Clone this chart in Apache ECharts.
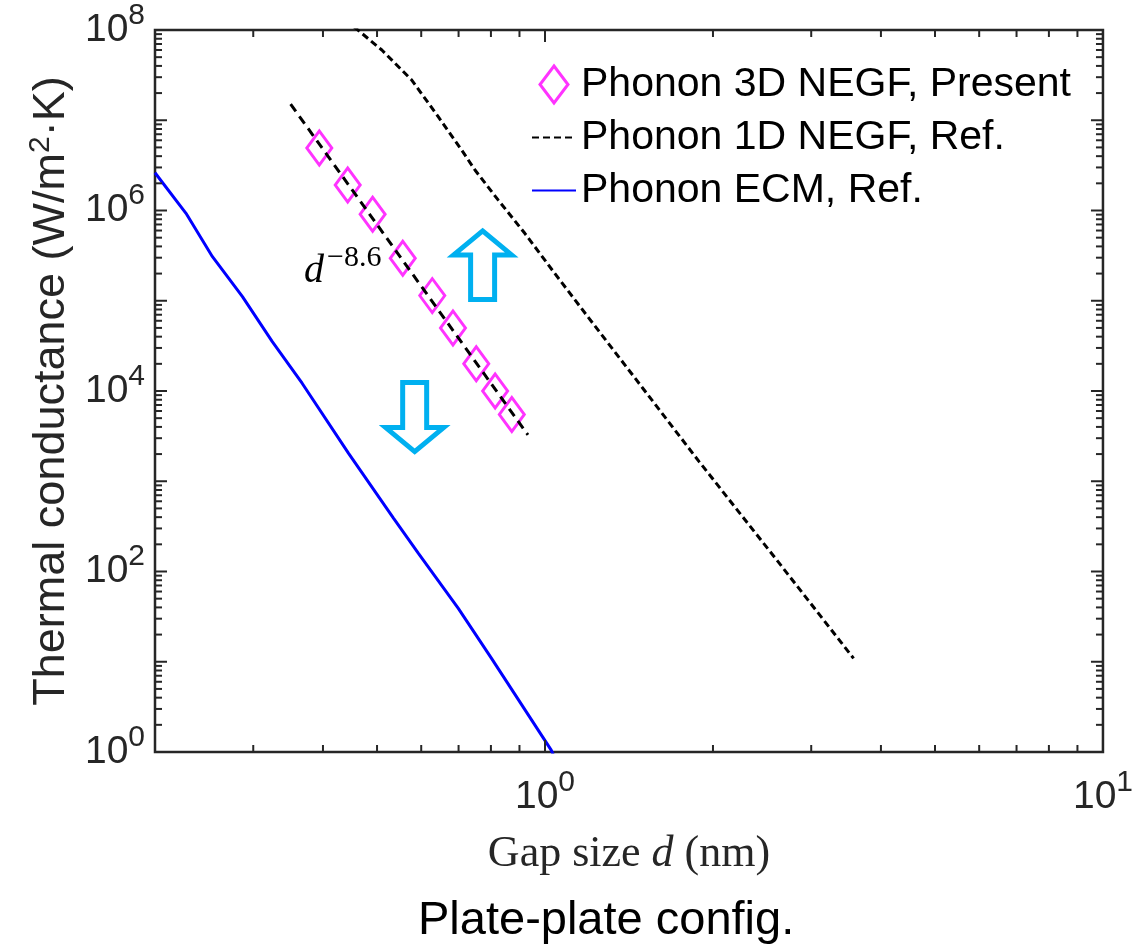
<!DOCTYPE html>
<html>
<head>
<meta charset="utf-8">
<script src="https://cdn.jsdelivr.net/npm/echarts/dist/echarts.min.js"></script>
<style>
html,body{margin:0;padding:0;background:#fff;}
#chart{width:1136px;height:948px;}
</style>
</head>
<body>
<div id="chart"></div>
<script>
// ---------- data ----------
const presentName = 'Phonon 3D NEGF, Present';
const negf1dName = 'Phonon 1D NEGF, Ref.';
const ecmName = 'Phonon ECM, Ref.';

const presentD = [0.394, 0.443, 0.491, 0.556, 0.628, 0.684, 0.753, 0.814, 0.872];
const presentG = [4.93e6, 1.92e6, 9.1e5, 2.95e5, 1.14e5, 5.0e4, 2.0e4, 1.0e4, 5.5e3];

const fitD = [0.350, 0.932];
const fitG = [1.51e7, 3.26e3];

const negf1dD = [0.455, 0.510, 0.577, 0.644, 0.709, 0.749, 0.824, 0.920, 1.041, 1.193, 1.496, 1.889, 2.61, 3.573];
const negf1dG = [1.08e8, 6.0e7, 2.79e7, 1.09e7, 4.68e6, 2.81e6, 1.31e6, 5.59e5, 2.01e5, 6.66e4, 1.08e4, 1.65e3, 131, 10.9];

const ecmD = [0.2, 0.2273, 0.2535, 0.2869, 0.3245, 0.367, 0.4446, 0.5354, 0.5931, 0.6992, 0.8019, 1.026, 1.035];
const ecmG = [2.62e6, 9.31e5, 3.08e5, 1.11e5, 3.52e4, 1.22e4, 2.04e3, 388, 159, 39.1, 10.9, 1.05, 0.93];

// annotation anchors (data space)
const arrowD = [0.773, 0.584];
const arrowTipG = [6.5e5, 1.95e3];
const arrowTailG = [9.7e4, 1.32e4];
const exponentLabelD = [0.370];
const exponentLabelG = [1.57e5];

// axis ticks
const xMajorTicks = [1, 10];
const xMinorTicks = [0.3, 0.4, 0.5, 0.6, 0.7, 0.8, 0.9, 2, 3, 4, 5, 6, 7, 8, 9];
const yMajorTicks = [1, 1e1, 1e2, 1e3, 1e4, 1e5, 1e6, 1e7, 1e8];
const yMinorMantissas = [2, 3, 4, 5, 6, 7, 8, 9];

// ---------- build ----------
const zip = (a, b) => a.map((v, i) => [v, b[i]]);
const X_MIN = 0.2, X_MAX = 10, Y_MIN = 1, Y_MAX = 1e8;

const yMinorTicks = [];
yMajorTicks.slice(0, -1).forEach(dec => yMinorMantissas.forEach(m => yMinorTicks.push(m * dec)));

const tickData = [];
xMinorTicks.forEach(v => tickData.push([v, Y_MIN, 0, 0]));
xMajorTicks.forEach(v => tickData.push([v, Y_MIN, 0, 1]));
yMinorTicks.forEach(v => tickData.push([X_MIN, v, 1, 0]));
yMajorTicks.forEach(v => tickData.push([X_MIN, v, 1, 1]));

const AX = '#262626';
const SANS = '"Liberation Sans", Arial, sans-serif';
const SERIF = '"Liberation Serif", "Times New Roman", serif';

const powLabel = (onlyEven) => (v) => {
  const e = Math.log10(v);
  const r = Math.round(e);
  if (Math.abs(e - r) > 1e-6) return '';
  if (onlyEven && r % 2 !== 0) return '';
  return '{b|10}{s|' + r + '}';
};
const tickRich = {
  b: {fontSize: 39, lineHeight: 39, fontFamily: SANS, color: AX, verticalAlign: 'bottom'},
  s: {fontSize: 30, lineHeight: 30, fontFamily: SANS, color: AX, verticalAlign: 'bottom', padding: [0, 0, 19, 0]}
};
const hiddenSymbol = {color: 'rgba(0,0,0,0)', borderColor: 'rgba(0,0,0,0)', borderWidth: 0};

const chart = echarts.init(document.getElementById('chart'), null, {renderer: 'canvas'});

const option = {
  backgroundColor: '#ffffff',
  animation: false,
  title: {
    text: 'Plate-plate config.',
    left: 418, top: 898,
    padding: 0,
    textStyle: {fontSize: 47, fontWeight: 'normal', fontFamily: SANS, color: '#000'}
  },
  grid: {
    left: 155, right: 28, top: 30, bottom: 196,
    show: true, borderColor: AX, borderWidth: 2.5, backgroundColor: 'transparent'
  },
  legend: {
    orient: 'vertical',
    left: 531, top: 64,
    itemWidth: 44, itemHeight: 37, itemGap: 12,
    selectedMode: false,
    padding: 0,
    textStyle: {fontSize: 41, fontFamily: SANS, color: '#000'},
    data: [
      {name: presentName, icon: 'path://M14 0L28 18.5L14 37L0 18.5Z',
       itemStyle: {color: 'rgba(255,255,255,0)', borderColor: '#FF00FF', borderWidth: 3}},
      {name: negf1dName, itemStyle: hiddenSymbol},
      {name: ecmName, itemStyle: hiddenSymbol}
    ]
  },
  xAxis: {
    type: 'log', logBase: 10, min: X_MIN, max: X_MAX,
    axisLine: {show: false}, axisTick: {show: false}, splitLine: {show: false},
    axisLabel: {margin: 26, formatter: powLabel(false), rich: tickRich},
    name: '{r|Gap size }{i|d}{r| (nm)}',
    nameLocation: 'middle', nameGap: 80,
    nameTextStyle: {
      rich: {
        r: {fontSize: 44, lineHeight: 44, fontFamily: SERIF, color: AX},
        i: {fontSize: 44, lineHeight: 44, fontFamily: SERIF, fontStyle: 'italic', color: AX}
      }
    }
  },
  yAxis: {
    type: 'log', logBase: 10, min: Y_MIN, max: Y_MAX, interval: 1,
    axisLine: {show: false}, axisTick: {show: false}, splitLine: {show: false},
    axisLabel: {margin: 10, formatter: powLabel(true), rich: tickRich},
    name: '{a|Thermal conductance (W/m}{s|2}{a|·K)}',
    nameLocation: 'middle', nameGap: 80,
    nameTextStyle: {
      rich: {
        a: {fontSize: 45, lineHeight: 48, fontFamily: SANS, color: AX, verticalAlign: 'bottom'},
        s: {fontSize: 30, lineHeight: 30, fontFamily: SANS, color: AX, verticalAlign: 'bottom', padding: [0, 0, 18, 0]}
      }
    }
  },
  series: [
    {
      name: ecmName, type: 'line', data: zip(ecmD, ecmG),
      symbol: 'none', clip: true, z: 2,
      lineStyle: {color: '#0000FF', width: 3},
      itemStyle: {color: '#0000FF'}
    },
    {
      name: negf1dName, type: 'line', data: zip(negf1dD, negf1dG),
      symbol: 'none', clip: true, z: 2,
      lineStyle: {color: '#000000', width: 3, type: [7, 4]},
      itemStyle: {color: '#000000'}
    },
    {
      name: presentName, type: 'scatter', data: zip(presentD, presentG),
      symbol: 'diamond', symbolSize: [25, 34], z: 3,
      itemStyle: {color: 'rgba(255,255,255,0)', borderColor: '#FF00FF', borderWidth: 3}
    },
    {
      name: 'fit', type: 'line', data: zip(fitD, fitG),
      symbol: 'none', clip: true, z: 4,
      lineStyle: {color: '#000000', width: 3, type: [9, 6]}
    },
    {
      name: 'ticks', type: 'custom', silent: true, z: 10,
      dimensions: ['x', 'y', 'kind', 'major'],
      encode: {x: 'x', y: 'y'},
      data: tickData,
      renderItem: function (params, api) {
        const cs = params.coordSys;
        const kind = api.value(2), major = api.value(3);
        const len = major ? 12 : 7;
        const st = {stroke: AX, lineWidth: 2};
        if (kind === 0) {
          const x = api.coord([api.value(0), Y_MIN])[0];
          const yb = cs.y + cs.height, yt = cs.y;
          return {type: 'group', children: [
            {type: 'line', shape: {x1: x, y1: yb, x2: x, y2: yb - len}, style: st},
            {type: 'line', shape: {x1: x, y1: yt, x2: x, y2: yt + len}, style: st}
          ]};
        }
        const y = api.coord([X_MIN, api.value(1)])[1];
        const xl = cs.x, xr = cs.x + cs.width;
        return {type: 'group', children: [
          {type: 'line', shape: {x1: xl, y1: y, x2: xl + len, y2: y}, style: st},
          {type: 'line', shape: {x1: xr, y1: y, x2: xr - len, y2: y}, style: st}
        ]};
      }
    },
    {
      name: 'arrows', type: 'custom', silent: true, z: 5,
      dimensions: ['x', 'tip', 'tail'],
      encode: {x: 'x', y: 'tip'},
      data: arrowD.map((d, i) => [d, arrowTipG[i], arrowTailG[i]]),
      renderItem: function (params, api) {
        const tip = api.coord([api.value(0), api.value(1)]);
        const tail = api.coord([api.value(0), api.value(2)]);
        const x = tip[0];
        const dir = tail[1] > tip[1] ? 1 : -1;
        const hw = 29, sw = 12, headLen = 27.5;
        const ty = tip[1] + dir * 3.5;
        const by = tip[1] + dir * headLen;
        const ey = tail[1] - dir * 2.5;
        return {
          type: 'polygon',
          shape: {points: [[x, ty], [x + hw, by], [x + sw, by], [x + sw, ey], [x - sw, ey], [x - sw, by], [x - hw, by]]},
          style: {fill: 'none', stroke: '#00B0F0', lineWidth: 5, lineJoin: 'miter'}
        };
      }
    },
    {
      name: 'exponent', type: 'custom', silent: true, z: 6,
      dimensions: ['x', 'y'],
      encode: {x: 'x', y: 'y'},
      data: zip(exponentLabelD, exponentLabelG),
      renderItem: function (params, api) {
        const p = api.coord([api.value(0), api.value(1)]);
        return {
          type: 'group', x: p[0], y: p[1],
          children: [
            {type: 'text', x: 0, y: -12,
             style: {text: 'd', font: 'italic 40px ' + SERIF, fill: '#000', align: 'left', verticalAlign: 'middle'}},
            {type: 'text', x: 23, y: -25,
             style: {text: '\u22128.6', font: '30px ' + SERIF, fill: '#000', align: 'left', verticalAlign: 'middle'}}
          ]
        };
      }
    }
  ]
};
chart.setOption(option);
</script>
</body>
</html>
